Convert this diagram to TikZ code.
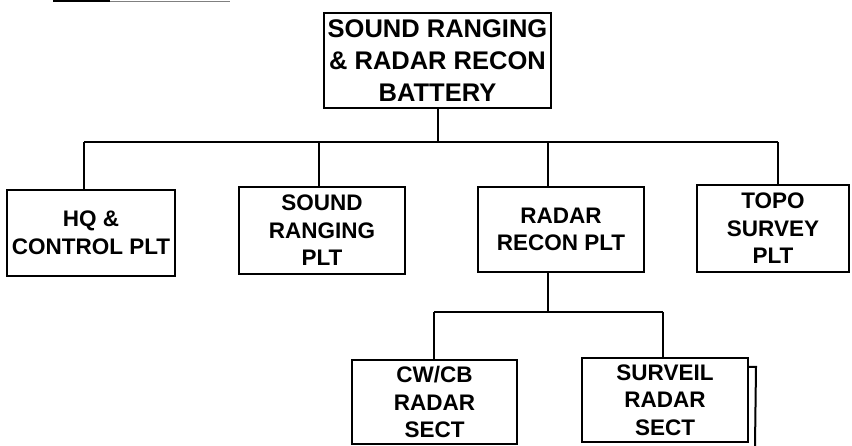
\documentclass[tikz,border=0pt]{standalone}
\usepackage{fontspec}
\setmainfont{Liberation Sans}
\begin{document}
\begin{tikzpicture}[x=1pt,y=-1pt,
  box/.style={draw, line width=2pt, inner sep=0pt, align=center,
    font=\bfseries\fontsize{22.5}{27.5}\selectfont},
  link/.style={line width=2pt}]
\useasboundingbox (0,0) rectangle (852,446);
% scan fragment at top-left
\draw[line width=1.2pt] (53,1) -- (110,1);
\draw[gray, line width=0.8pt] (110,1) -- (230,1);
% nodes
\node[box, minimum width=227pt, minimum height=95pt,
  font=\bfseries\fontsize{25.5}{32}\selectfont] (top) at (437.5,60.5)
  {SOUND RANGING\\\& RADAR RECON\\BATTERY};
\node[box, minimum width=168pt, minimum height=86pt] (hq) at (91,233)
  {HQ \&\\CONTROL PLT};
\node[box, minimum width=166pt, minimum height=87pt] (snd) at (322,230.5)
  {SOUND\\RANGING\\PLT};
\node[box, minimum width=166pt, minimum height=85pt] (rad) at (561,229.5)
  {RADAR\\RECON PLT};
\node[box, minimum width=152pt, minimum height=87pt] (topo) at (773,228.5)
  {TOPO\\SURVEY\\PLT};
\node[box, minimum width=165pt, minimum height=84pt] (cw) at (434.5,402)
  {CW/CB\\RADAR\\SECT};
\node[box, minimum width=166pt, minimum height=84pt] (surv) at (665,400)
  {SURVEIL\\RADAR\\SECT};
% junctions
\coordinate (b1) at (84,142);
\coordinate (b2) at (319,142);
\coordinate (b3) at (548,142);
\coordinate (b4) at (778,142);
\coordinate (s1) at (434,312);
\coordinate (s2) at (663,312);
\coordinate (s0) at (548,312);
\coordinate (sh) at (755,446);
% connectors
\draw[link] (top.south) -- (top.south |- b1);
\draw[link] (b1) -- (b4);
\draw[link] (b1) -- (b1 |- hq.north);
\draw[link] (b2) -- (b2 |- snd.north);
\draw[link] (b3) -- (b3 |- rad.north);
\draw[link] (b4) -- (b4 |- topo.north);
\draw[link] (s0 |- rad.south) -- (s0);
\draw[link] (s1) -- (s2);
\draw[link] (s1) -- (s1 |- cw.north);
\draw[link] (s2) -- (s2 |- surv.north);
% offset edge behind SURVEIL box
\draw[link] (surv.north east) ++(0,10) -- ++(7,0) -- (sh);
\end{tikzpicture}
\end{document}
